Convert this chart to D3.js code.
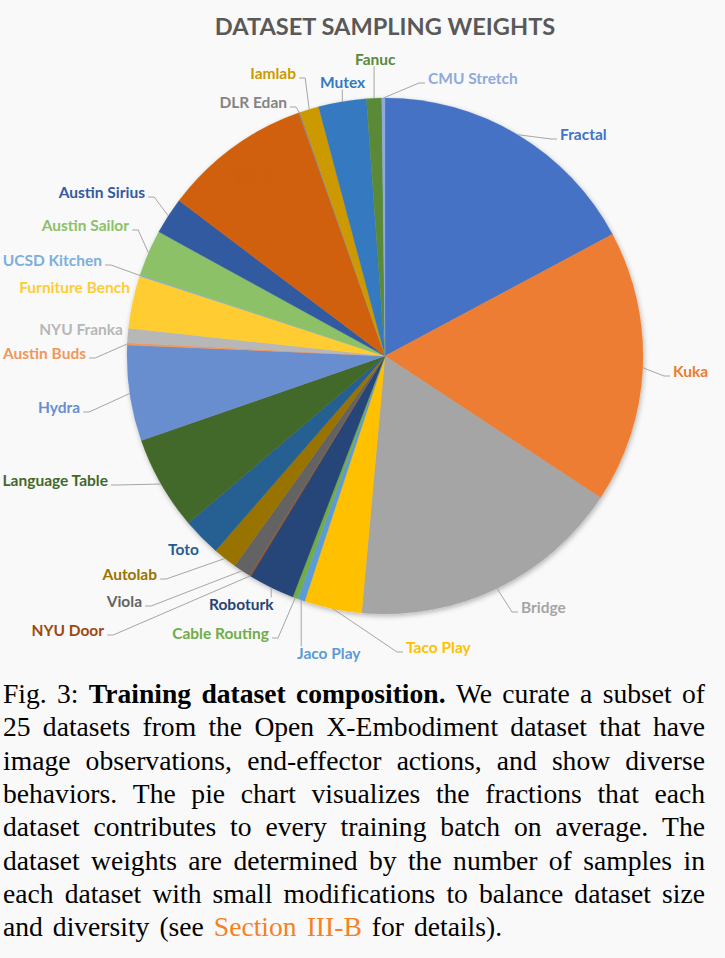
<!DOCTYPE html>
<html>
<head>
<meta charset="utf-8">
<script src="https://cdn.jsdelivr.net/npm/d3@7"></script>
<style>
  body { margin: 0; background: #f9f9f9; }
  svg { display: block; }
  .lbl { font-family: Lato, "Open Sans", sans-serif; font-weight: 700; font-size: 15.5px; }
  .cap { font-family: "Liberation Serif", "Times New Roman", serif; font-size: 27.6px; }
</style>
</head>
<body>
<svg id="chart" width="725" height="958"></svg>
<script>
// slices, clockwise from 12 o'clock
const datasets = ["Fractal", "Kuka", "Bridge", "Taco Play", "Jaco Play", "Cable Routing", "Roboturk",
  "NYU Door", "Viola", "Autolab", "Toto", "Language Table", "Hydra", "Austin Buds", "NYU Franka",
  "Furniture Bench", "UCSD Kitchen", "Austin Sailor", "Austin Sirius", "BC-Z", "DLR Edan", "Iamlab",
  "Mutex", "Fanuc", "CMU Stretch"];

// sampling weight, percent
const weights = [17.2, 17.1, 17.2, 3.6, 0.45, 0.33, 2.9, 0.08, 1.1, 1.5, 2.4, 5.9, 6.0, 0.14, 0.9,
  3.3, 0.08, 2.9, 2.3, 9.3, 0.08, 1.2, 3.0, 0.95, 0.2];

const colors = ["#4472c4", "#ed7d31", "#a5a5a5", "#ffc000", "#5b9bd5", "#70ad47", "#264478",
  "#9e480e", "#636363", "#997300", "#255e91", "#43682b", "#698ed0", "#f1975a", "#b7b7b7",
  "#ffcd33", "#7cafdd", "#8cc168", "#335aa1", "#d0600f", "#848484", "#cc9a00",
  "#3479c0", "#5a8a39", "#8faadc"];

const title = "DATASET SAMPLING WEIGHTS";

// where each label sits: x, y (middle), anchor, leader style
const labelLayout = {
  "Fractal":        [560, 135, "start", "side"],
  "Kuka":           [673, 372, "start", "side"],
  "Bridge":         [521, 608, "start", "side"],
  "Taco Play":      [406, 648, "start", "side"],
  "Jaco Play":      [297, 654, "start", "down"],
  "Cable Routing":  [269, 634, "end", "side"],
  "Roboturk":       [209, 605, "start", "down"],
  "NYU Door":       [104, 631, "end", "side"],
  "Viola":          [142, 602, "end", "side"],
  "Autolab":        [157, 575, "end", "side"],
  "Toto":           [168, 550, "start", "none"],
  "Language Table": [108, 481, "end", "side"],
  "Hydra":          [80, 408, "end", "side"],
  "Austin Buds":    [86, 354, "end", "side"],
  "NYU Franka":     [123, 330, "end", "none"],
  "Furniture Bench":[130, 288, "end", "none"],
  "UCSD Kitchen":   [102, 261, "end", "side"],
  "Austin Sailor":  [129, 226, "end", "side"],
  "Austin Sirius":  [145, 193, "end", "side"],
  "DLR Edan":       [287, 103, "end", "side"],
  "Iamlab":         [296, 74, "end", "side"],
  "Mutex":          [320, 83, "start", "up"],
  "Fanuc":          [355, 60, "start", "up"],
  "CMU Stretch":    [428, 79, "start", "side"]
};

const captionLines = [
  "Fig. 3: **Training dataset composition.** We curate a subset of",
  "25 datasets from the Open X-Embodiment dataset that have",
  "image observations, end-effector actions, and show diverse",
  "behaviors. The pie chart visualizes the fractions that each",
  "dataset contributes to every training batch on average. The",
  "dataset weights are determined by the number of samples in",
  "each dataset with small modifications to balance dataset size",
  "and diversity (see [[Section III-B]] for details)."
];

const svg = d3.select("#chart");
const cx = 385, cy = 356, radius = 258;

const defs = svg.append("defs");
defs.append("filter").attr("id", "shadow")
    .attr("x", "-10%").attr("y", "-10%").attr("width", "120%").attr("height", "120%")
  .append("feDropShadow")
    .attr("dx", 1).attr("dy", 2).attr("stdDeviation", 2.5)
    .attr("flood-color", "#000").attr("flood-opacity", 0.28);

// title
svg.append("text")
    .attr("x", 385).attr("y", 35)
    .attr("text-anchor", "middle")
    .attr("font-family", "Lato, 'Open Sans', sans-serif")
    .attr("font-weight", 700)
    .attr("font-size", 23.6)
    .attr("fill", "#595959")
    .text(title);

const color = d3.scaleOrdinal().domain(datasets).range(colors);

const rows = datasets.map((name, i) => ({ name: name, value: weights[i] }));
const pie = d3.pie().sort(null).value(d => d.value);
const arcs = pie(rows);

const arc = d3.arc().innerRadius(0).outerRadius(radius);
const edge = d3.arc().innerRadius(radius).outerRadius(radius);

const g = svg.append("g").attr("transform", `translate(${cx},${cy})`);

g.append("g").attr("filter", "url(#shadow)")
  .selectAll("path")
  .data(arcs)
  .join("path")
    .attr("d", arc)
    .attr("fill", d => color(d.data.name))
    .attr("stroke", d => color(d.data.name))
    .attr("stroke-width", 0.3);

// the orange slice has only a barely visible label inside it
const bcz = arcs.find(d => d.data.name == "BC-Z");
const inner = d3.arc().innerRadius(radius * 0.86).outerRadius(radius * 0.86);
g.append("text")
    .attr("class", "lbl")
    .attr("transform", `translate(${inner.centroid(bcz)})`)
    .attr("text-anchor", "middle")
    .attr("dy", "0.35em")
    .style("fill", "#ce5f10")
    .text("BC-Z");

// labels and leader lines
const labels = svg.append("g");
const leaders = svg.append("g")
    .attr("fill", "none")
    .attr("stroke", "#a6a6a6")
    .attr("stroke-width", 1);

arcs.forEach(d => {
  const lay = labelLayout[d.data.name];
  if (!lay) return;
  const [lx, ly, anchor, mode] = lay;
  const t = labels.append("text")
      .attr("class", "lbl")
      .attr("x", lx).attr("y", ly)
      .attr("dy", "0.35em")
      .attr("text-anchor", anchor)
      .style("fill", color(d.data.name))
      .text(d.data.name);
  const bb = t.node().getBBox();
  const [ex, ey] = edge.centroid(d);
  const px = ex + cx, py = ey + cy;
  if (mode == "side") {
    const side = anchor == "start" ? bb.x - 3 : bb.x + bb.width + 3;
    const dir = anchor == "start" ? -1 : 1;
    const yy = ly + 4;
    leaders.append("polyline")
        .attr("points", [[px, py], [side + dir * 6, yy], [side, yy]].map(p => p.join(",")).join(" "));
  } else if (mode == "down") {
    leaders.append("line")
        .attr("x1", px).attr("y1", py)
        .attr("x2", px).attr("y2", bb.y + 2);
  } else if (mode == "up") {
    leaders.append("line")
        .attr("x1", px).attr("y1", py)
        .attr("x2", px).attr("y2", bb.y + bb.height - 2);
  }
});

// caption, justified word by word
const capLeft = 3, capRight = 705;
const capG = svg.append("g");
captionLines.forEach((line, i) => {
  const y = 703 + i * 33.3;
  let bold = false, link = false;
  const words = line.split(" ").map(w => {
    if (w.startsWith("**")) { bold = true; w = w.slice(2); }
    if (w.startsWith("[[")) { link = true; w = w.slice(2); }
    const word = { text: w, bold: bold, link: link };
    if (w.endsWith("**")) { word.text = w.slice(0, -2); bold = false; }
    if (w.endsWith("]]")) { word.text = w.slice(0, -2); link = false; }
    return word;
  });
  const nodes = words.map(w => capG.append("text")
      .attr("class", "cap")
      .attr("y", y)
      .attr("font-weight", w.bold ? 700 : 400)
      .style("fill", w.link ? "#f5821f" : "#000")
      .text(w.text));
  const widths = nodes.map(n => n.node().getComputedTextLength());
  const last = i == captionLines.length - 1;
  const gap = last ? 10 : (capRight - capLeft - d3.sum(widths)) / (words.length - 1);
  let x = capLeft;
  nodes.forEach((n, k) => {
    n.attr("x", x);
    x += widths[k] + gap;
  });
});
</script>
</body>
</html>
